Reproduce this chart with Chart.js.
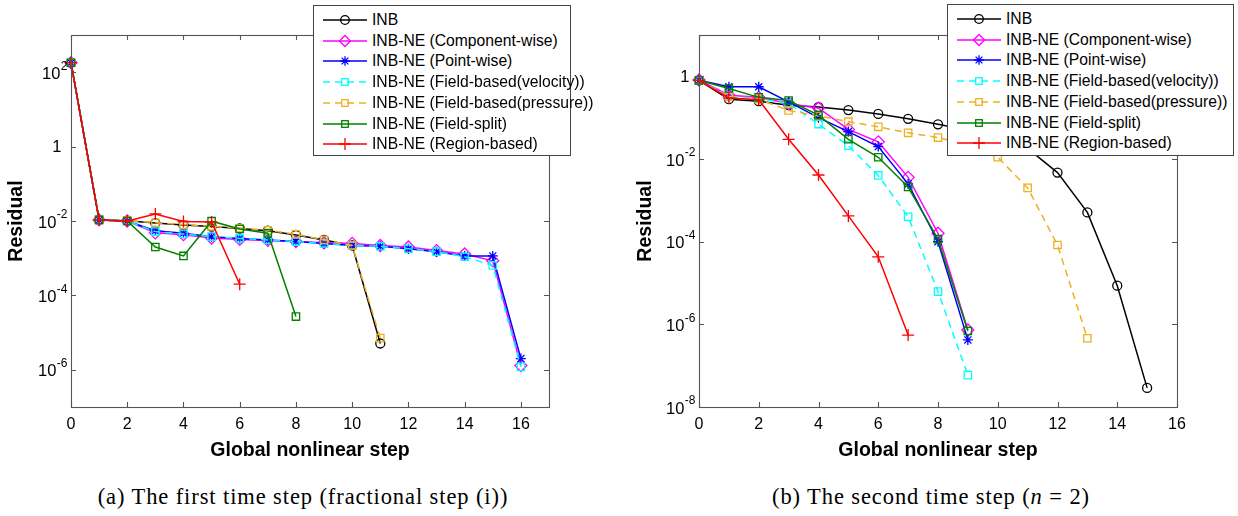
<!DOCTYPE html>
<html>
<head>
<meta charset="utf-8">
<script src="https://cdn.jsdelivr.net/npm/chart.js@4.4.0/dist/chart.umd.min.js"></script>
<style>
html,body{margin:0;padding:0;background:#fff;}
body{width:1238px;height:516px;position:relative;overflow:hidden;font-family:'Liberation Sans',Arial,sans-serif;}
.cw{position:absolute;top:0;height:470px;}
#wa{left:0;width:620px;}
#wb{left:620px;width:618px;}
.legend{position:absolute;background:#fff;border:1px solid #444;box-sizing:border-box;font-size:15.7px;color:#000;}
.legend .row{position:absolute;left:0;right:0;height:20px;}
.legend svg{position:absolute;left:9px;top:0;}
.legend span{position:absolute;left:58px;top:0;line-height:20px;white-space:nowrap;}
.cap{position:absolute;font-family:'Liberation Serif','Times New Roman',serif;font-size:22.5px;letter-spacing:0.9px;white-space:nowrap;transform:translate(-50%,-50%);color:#000;}
</style>
</head>
<body>
<div class="cw" id="wa"><canvas id="ca" width="620" height="470"></canvas></div>
<div class="cw" id="wb"><canvas id="cb" width="618" height="470"></canvas></div>
<div class="legend" id="lega" style="left:313px;top:5px;width:258px;height:151px;"></div>
<div class="legend" id="legb" style="left:947px;top:4px;width:287px;height:152px;"></div>
<div class="cap" style="left:303px;top:497px;">(a) The first time step (fractional step (i))</div>
<div class="cap" style="left:931px;top:497px;">(b) The second time step (<i>n</i> = 2)</div>
<script>
// ---------------- data ----------------
const seriesNames = [
  'INB',
  'INB-NE (Component-wise)',
  'INB-NE (Point-wise)',
  'INB-NE (Field-based(velocity))',
  'INB-NE (Field-based(pressure))',
  'INB-NE (Field-split)',
  'INB-NE (Region-based)'
];
const xTickValues = [0, 2, 4, 6, 8, 10, 12, 14, 16];

// (a) first time step, residual vs. global nonlinear step (index = step)
const inbA    = [180, 0.0107, 0.0102, 0.0088, 0.0078, 0.0071, 0.0063, 0.0055, 0.0042, 0.0031, 0.0022, 5.1e-6];
const compA   = [180, 0.0107, 0.0100, 0.0048, 0.0043, 0.0035, 0.0032, 0.0030, 0.0028, 0.0026, 0.0025, 0.0022, 0.0020, 0.0016, 0.0013, 0.00085, 1.3e-6];
const pointA  = [180, 0.0107, 0.0100, 0.0055, 0.0047, 0.0038, 0.0034, 0.0031, 0.0028, 0.0025, 0.0022, 0.0021, 0.0018, 0.0015, 0.00115, 0.00115, 2.0e-6];
const velA    = [180, 0.0107, 0.0100, 0.0052, 0.0045, 0.0038, 0.0034, 0.0031, 0.0028, 0.0025, 0.0022, 0.0021, 0.0018, 0.0015, 0.0011, 0.00064, 1.2e-6];
const presA   = [180, 0.0107, 0.0102, 0.0090, 0.0080, 0.0072, 0.0064, 0.0056, 0.0044, 0.0031, 0.0022, 7.1e-6];
const splitA  = [180, 0.0107, 0.0100, 0.0020, 0.00115, 0.0099, 0.0061, 0.0047, 2.7e-5];
const regionA = [180, 0.0107, 0.0100, 0.0155, 0.0097, 0.0094, 2.0e-4];
const yTicksA = [1e-6, 1e-4, 1e-2, 1, 1e2];

// (b) second time step
const inbB    = [0.8, 0.28, 0.25, 0.20, 0.18, 0.153, 0.123, 0.094, 0.069, 0.050, 0.032, 0.018, 4.7e-3, 5.1e-4, 8.6e-6, 2.9e-8];
const compB   = [0.82, 0.35, 0.31, 0.22, 0.17, 0.052, 0.026, 3.6e-3, 1.6e-4, 7.3e-7];
const pointB  = [0.8, 0.56, 0.56, 0.24, 0.10, 0.046, 0.020, 2.5e-3, 1.0e-4, 4.2e-7];
const velB    = [0.8, 0.33, 0.29, 0.22, 0.070, 0.021, 4.0e-3, 4.0e-4, 6.2e-6, 5.9e-8];
const presB   = [0.8, 0.32, 0.28, 0.15, 0.11, 0.080, 0.060, 0.043, 0.033, 0.022, 0.011, 2.0e-3, 8.3e-5, 4.6e-7];
const splitB  = [0.8, 0.51, 0.31, 0.26, 0.115, 0.030, 0.011, 2.1e-3, 1.15e-4, 6.9e-7];
const regionB = [0.8, 0.30, 0.27, 0.030, 4.1e-3, 4.2e-4, 4.3e-5, 5.5e-7];
const yTicksB = [1e-8, 1e-6, 1e-4, 1e-2, 1];

// ---------------- styles ----------------
const FAM = "'Liberation Sans', Arial, sans-serif";
Chart.defaults.font.family = FAM;
const styles = [
  {color:'#000000', shape:'circle',  r:4.5, dash:[]},
  {color:'#ff00ff', shape:'rectRot', r:6,   dash:[]},
  {color:'#0000ff', shape:'star',    r:5,   dash:[]},
  {color:'#00ffff', shape:'rect',    r:5.2, dash:[7,5]},
  {color:'#EDB120', shape:'rect',    r:5.2, dash:[7,5]},
  {color:'#008000', shape:'rect',    r:5.2, dash:[]},
  {color:'#ff0000', shape:'cross',   r:6,   dash:[]}
];

function toPts(arr){ return arr.map((v,i)=>({x:i, y:v})); }
function makeDatasets(list){
  return list.map((arr,i)=>({
    label: seriesNames[i],
    data: toPts(arr),
    borderColor: styles[i].color,
    backgroundColor: 'rgba(0,0,0,0)',
    borderWidth: 1.5,
    borderDash: styles[i].dash,
    pointStyle: styles[i].shape,
    pointRadius: styles[i].r,
    pointHoverRadius: styles[i].r,
    pointBorderColor: styles[i].color,
    pointBackgroundColor: 'rgba(0,0,0,0)',
    pointBorderWidth: 1.3,
    tension: 0,
    clip: false,
    order: 10 - i
  }));
}

function drawYLabel(ctx, v, xRight, y){
  const e = Math.round(Math.log10(v));
  ctx.fillStyle = '#000';
  ctx.textBaseline = 'middle';
  if (e === 0){
    ctx.font = '16.5px ' + FAM;
    ctx.textAlign = 'right';
    ctx.fillText('1', xRight - 6, y + 1);
    return;
  }
  const exp = (e < 0 ? '-' : '') + Math.abs(e);
  ctx.font = '12px ' + FAM;
  const ew = ctx.measureText(exp).width;
  ctx.font = '16.5px ' + FAM;
  const bw = ctx.measureText('10').width;
  const x0 = xRight - ew - bw - 0.5;
  ctx.textAlign = 'left';
  ctx.fillText('10', x0, y + 2);
  ctx.font = '12px ' + FAM;
  ctx.fillText(exp, x0 + bw + 0.5, y - 6);
}

const matlabAxes = {
  id: 'matlabAxes',
  afterDatasetsDraw(chart, args, opts){
    const ctx = chart.ctx, a = chart.chartArea;
    const xs = chart.scales.x, ys = chart.scales.y;
    ctx.save();
    ctx.strokeStyle = '#555';
    ctx.lineWidth = 1.1;
    ctx.setLineDash([]);
    ctx.strokeRect(Math.round(a.left)+0.5, Math.round(a.top)+0.5, Math.round(a.right-a.left), Math.round(a.bottom-a.top));
    const tl = 5;
    ctx.beginPath();
    opts.xTicks.forEach(v=>{
      const px = Math.round(xs.getPixelForValue(v)) + 0.5;
      ctx.moveTo(px, a.bottom); ctx.lineTo(px, a.bottom - tl);
      ctx.moveTo(px, a.top); ctx.lineTo(px, a.top + tl);
    });
    opts.yTicks.forEach(v=>{
      const py = Math.round(ys.getPixelForValue(v)) + 0.5;
      ctx.moveTo(a.left, py); ctx.lineTo(a.left + tl, py);
      ctx.moveTo(a.right, py); ctx.lineTo(a.right - tl, py);
    });
    ctx.stroke();
    opts.yTicks.forEach(v=>{
      drawYLabel(ctx, v, a.left - 3.5, ys.getPixelForValue(v));
    });
    ctx.restore();
  }
};

function makeChart(id, lists, xMax, yMin, yMax, yTicks, yWidth, padRight, titlePadTop){
  return new Chart(document.getElementById(id), {
    type: 'line',
    data: { datasets: makeDatasets(lists) },
    options: {
      responsive: false,
      animation: false,
      events: [],
      layout: { padding: { top: 35, right: padRight, left: 0, bottom: 0 } },
      plugins: { legend: { display: false }, tooltip: { enabled: false },
                 matlabAxes: { xTicks: xTickValues, yTicks: yTicks } },
      scales: {
        x: {
          type: 'linear', min: 0, max: xMax,
          afterBuildTicks: s => { s.ticks = xTickValues.map(v=>({value:v})); },
          afterFit: s => { s.height = 63; },
          grid: { display: false, drawTicks: false },
          border: { display: false },
          ticks: { color: '#000', font: { size: 16 }, padding: 8, maxRotation: 0, autoSkip: false },
          title: { display: true, text: 'Global nonlinear step', color: '#000',
                   font: { size: 19.5, weight: 'bold', lineHeight: 1.2 }, padding: { top: 0, bottom: 7.3 } }
        },
        y: {
          type: 'logarithmic', min: yMin, max: yMax,
          afterBuildTicks: s => { s.ticks = yTicks.map(v=>({value:v})); },
          afterFit: s => { s.width = yWidth; },
          grid: { display: false, drawTicks: false },
          border: { display: false },
          ticks: { display: false },
          title: { display: true, text: 'Residual', color: '#000',
                   font: { size: 19.5, weight: 'bold', lineHeight: 1.2 }, padding: { top: titlePadTop, bottom: 0 } }
        }
      }
    },
    plugins: [matlabAxes]
  });
}

makeChart('ca', [inbA, compA, pointA, velA, presA, splitA, regionA], 17, 1e-7, 1e3, yTicksA, 71, 71, 5.3);
makeChart('cb', [inbB, compB, pointB, velB, presB, splitB, regionB], 16, 1e-8, 1e1, yTicksB, 79, 61, 14.3);

// ---------------- legends ----------------
function markerSVG(st){
  const c = st.color, cx = 22, cy = 10;
  const sw = 'stroke="'+c+'" stroke-width="1.3" fill="none"';
  switch(st.shape){
    case 'circle': return '<circle cx="'+cx+'" cy="'+cy+'" r="4.3" '+sw+'/>';
    case 'rectRot': return '<polygon points="'+cx+','+(cy-5.5)+' '+(cx+5.5)+','+cy+' '+cx+','+(cy+5.5)+' '+(cx-5.5)+','+cy+'" '+sw+'/>';
    case 'rect': return '<rect x="'+(cx-3.3)+'" y="'+(cy-3.3)+'" width="6.6" height="6.6" '+sw+'/>';
    case 'star': {
      let d = '';
      for (let k=0;k<4;k++){ const ang = k*Math.PI/4, dx = 4.8*Math.cos(ang), dy = 4.8*Math.sin(ang);
        d += 'M'+(cx-dx)+' '+(cy-dy)+'L'+(cx+dx)+' '+(cy+dy); }
      return '<path d="'+d+'" '+sw+'/>';
    }
    case 'cross': return '<path d="M'+(cx-6)+' '+cy+'L'+(cx+6)+' '+cy+'M'+cx+' '+(cy-6)+'L'+cx+' '+(cy+6)+'" '+sw+'/>';
  }
  return '';
}
function buildLegend(id){
  const el = document.getElementById(id);
  let html = '';
  seriesNames.forEach((name,i)=>{
    const st = styles[i];
    const dashAttr = st.dash.length ? ' stroke-dasharray="'+st.dash.join(' ')+'"' : '';
    const top = 4 + i*20.7;
    html += '<div class="row" style="top:'+top+'px">' +
      '<svg width="44" height="20" viewBox="0 0 44 20"><line x1="0" y1="10" x2="44" y2="10" stroke="'+st.color+'" stroke-width="1.5"'+dashAttr+'/>' +
      markerSVG(st) + '</svg><span>'+name+'</span></div>';
  });
  el.innerHTML = html;
}
buildLegend('lega');
buildLegend('legb');
</script>
</body>
</html>
